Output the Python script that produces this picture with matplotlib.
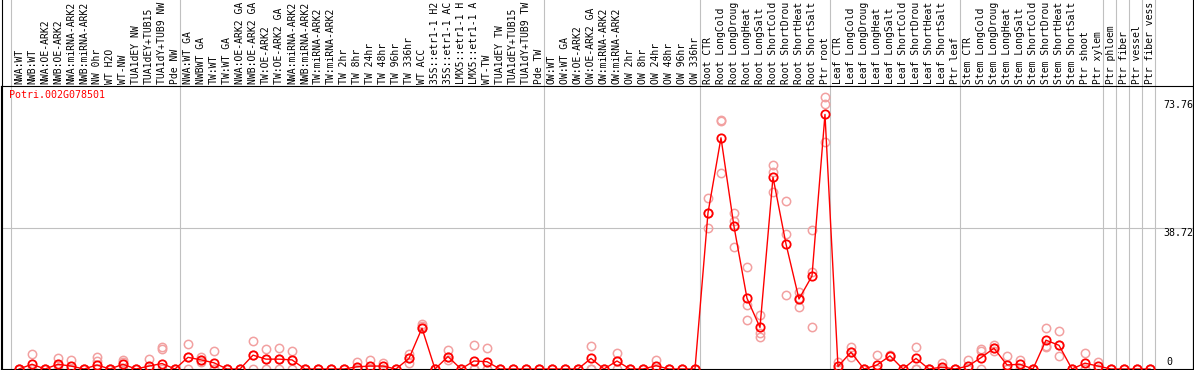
import matplotlib
matplotlib.use("Agg")
import matplotlib.pyplot as plt
import matplotlib.transforms as mtransforms
from matplotlib.lines import Line2D

#Sample names (top header), as far as they show in the header
labels = [
    "NWA:WT", "NWB:WT", "NWA:OE-ARK2", "NWB:OE-ARK2", "NWA:miRNA-ARK2", "NWB:miRNA-ARK2",
    "NW 0hr", "WT H2O", "WT-NW", "TUA1dEY NW", "TUA1dEY+TUB15", "TUA1dY+TUB9 NW", "Pde NW",
    "NWA:WT GA", "NWBWT GA", "TW:WT", "TW:WT GA", "NWA:OE-ARK2 GA", "NWB:OE-ARK2 GA",
    "TW:OE-ARK2", "TW:OE-ARK2 GA", "NWA:miRNA-ARK2", "NWB:miRNA-ARK2", "TW:miRNA-ARK2",
    "TW:miRNA-ARK2", "TW 2hr", "TW 8hr", "TW 24hr", "TW 48hr", "TW 96hr", "TW 336hr",
    "WT ACC", "35S::etr1-1 H2", "35S::etr1-1 AC", "LMX5::etr1-1 H", "LMX5::etr1-1 A",
    "WT-TW", "TUA1dEY TW", "TUA1dEY+TUB15", "TUA1dY+TUB9 TW", "Pde TW",
    "OW:WT", "OW:WT GA", "OW:OE-ARK2", "OW:OE-ARK2 GA", "OW:miRNA-ARK2", "OW:miRNA-ARK2",
    "OW 2hr", "OW 8hr", "OW 24hr", "OW 48hr", "OW 96hr", "OW 336hr",
    "Root CTR", "Root LongCold", "Root LongDroug", "Root LongHeat", "Root LongSalt",
    "Root ShortCold", "Root ShortDrou", "Root ShortHeat", "Root ShortSalt", "Ptr root",
    "Leaf CTR", "Leaf LongCold", "Leaf LongDroug", "Leaf LongHeat", "Leaf LongSalt",
    "Leaf ShortCold", "Leaf ShortDrou", "Leaf ShortHeat", "Leaf ShortSalt", "Ptr leaf",
    "Stem CTR", "Stem LongCold", "Stem LongDroug", "Stem LongHeat", "Stem LongSalt",
    "Stem ShortCold", "Stem ShortDrou", "Stem ShortHeat", "Stem ShortSalt", "Ptr shoot",
    "Ptr xylem", "Ptr phloem", "Ptr fiber", "Ptr vessel", "Ptr fiber vess",
]

#How many samples in each experiment block
group_sizes = [13, 28, 12, 10, 10, 11, 1, 1, 1, 1]

#Mean expression per sample
means = [
    0, 1.3, 0, 1.3, 0.8, 0, 1.1, 0, 1.3, 0, 0.8, 1.5, 0,
    3.2, 2.5, 1.7, 0, 0, 3.8, 2.7, 2.7, 2.5, 0, 0, 0, 0, 0.6, 0.8, 0.8, 0, 2.9,
    11.2, 0, 3.4, 0, 2.2, 2.0, 0, 0, 0, 0,
    0, 0, 0, 2.9, 0, 2.2, 0, 0, 0.9, 0, 0, 0,
    42.8, 63.4, 39.1, 19.4, 11.4, 52.6, 34.3, 19.2, 25.5, 69.8,
    0.7, 4.6, 0, 1.1, 3.6, 0, 2.9, 0, 0.5, 0,
    0.8, 3.1, 5.7, 1.1, 1.3, 0, 7.9, 6.5, 0, 1.6, 0.8,
    0, 0, 0, 0,
]

#Replicate values per sample
reps = [
    (0, 0, 0), (4.1, 0, 0), (0, 0, 0), (2.9, 1.0, 0), (2.5, 0, 0), (0, 0, 0),
    (3.4, 2.2, 0), (0, 0, 0), (2.5, 2.0, 0), (0, 0, 0), (2.7, 0, 0), (6.1, 5.4, 0), (0, 0, 0),
    (6.9, 3.2, 0), (3.4, 1.8, 2.5), (4.9, 0, 0), (0, 0, 0), (0, 0, 0), (7.7, 3.8, 0),
    (5.5, 2.7, 0), (5.8, 2.7, 0), (4.9, 2.5, 0), (0, 0, 0), (0, 0, 0), (0, 0, 0), (0, 0, 0),
    (1.9, 0, 0), (2.5, 0, 0), (1.7, 0, 0), (0, 0, 0), (4.1, 1.6, 2.9),
    (12.4, 11.9, 11.2), (0, 0, 0), (5.1, 2.5, 3.4), (0, 0, 0), (6.6, 0, 0),
    (5.7, 0, 0), (0, 0, 0), (0, 0, 0), (0, 0, 0), (0, 0, 0),
    (0, 0, 0), (0, 0, 0), (0, 0, 0), (6.3, 0, 0), (0, 0, 0), (4.4, 2.2, 0),
    (0, 0, 0), (0, 0, 0), (2.5, 0, 0), (0, 0, 0), (0, 0, 0), (0, 0, 0),
    (46.9, 42.9, 38.6), (68.3, 68.1, 53.8), (42.8, 40.5, 33.4), (28.0, 17.6, 13.5),
    (14.8, 10.0, 8.7), (56.0, 53.9, 48.4), (46.1, 37.1, 20.3), (21.1, 19.6, 16.9),
    (38.2, 26.7, 11.6), (74.6, 72.8, 62.3),
    (2.0, 0, 0), (6.1, 3.4, 4.6), (0, 0, 0), (3.8, 0, 0), (3.8, 3.6, 3.6),
    (0, 0, 0), (6.0, 0, 0), (0, 0, 0), (1.6, 0, 0), (0, 0, 0),
    (2.5, 0, 0), (5.4, 4.8, 0), (6.6, 4.8, 5.7), (3.5, 0, 0), (2.6, 0, 0), (0, 0, 0),
    (11.2, 6.4, 6.0), (10.3, 3.5, 6.5), (0, 0, 0), (4.5, 0, 0), (1.9, 0, 0),
    (0, 0, 0), (0, 0, 0), (0, 0, 0), (0, 0, 0),
]

gene = "Potri.002G078501"
ytick_vals = [73.76, 38.72, 0]

mono = "DejaVu Sans Mono"
W, H = 1194, 370

fig = plt.figure(figsize=(W / 100, H / 100), dpi=100)
ax = fig.add_axes([1 / W, 1 / H, 1192 / W, 283 / H])
ax.set_xlim(-1.385, 90.31)
ax.set_ylim(0, 77.6)
ax.set_xticks([])
ax.set_yticks([])
for s in ["left", "right", "top", "bottom"]:
    ax.spines[s].set_linewidth(0.8)

#block separators, run up through the header
start = 0
bounds = [0]
for g in group_sizes:
    start += g
    bounds.append(start)
for b in bounds:
    ax.axvline(b - 0.62, ymin=0, ymax=370 / 283, color="#c0c0c0", lw=0.8,
               clip_on=False, zorder=1)
ax.axhline(38.72, color="#c0c0c0", lw=0.8, zorder=1)

#outer frame sides in the header
for xf in [1.5 / W, 1192.5 / W]:
    fig.add_artist(Line2D([xf, xf], [0, 1], transform=fig.transFigure, color="black", lw=0.8))

xs = list(range(len(labels)))

#replicates
for i, r in enumerate(reps):
    ax.plot([i] * len(r), r, ls="none", marker="o", ms=6, mfc="none", mec="#f2a0a0",
            mew=1.1, zorder=2)

#mean line
ax.plot(xs, means, color="red", lw=1, marker="o", ms=6, mfc="none", mec="red",
        mew=1.3, zorder=3)

#header labels
trans = mtransforms.blended_transform_factory(ax.transData, ax.transAxes)
for i, lab in enumerate(labels):
    ax.text(i, 1 + 2.5 / 283, lab, rotation=90, ha="center", va="bottom", fontsize=7.0,
            family=mono, transform=trans, clip_on=False)

ax.text(8 / 1192, 0.986, gene, color="red", fontsize=7.2, family=mono,
        ha="left", va="top", transform=ax.transAxes)

#value labels on the right
ytrans = ax.get_yaxis_transform()
for v in ytick_vals:
    txt = "0" if v == 0 else f"{v:.2f}"
    if v == 0:
        ax.text(1165 / 1192, 0.5, txt, fontsize=7.2, family=mono, ha="left", va="bottom",
                transform=ytrans)
    else:
        ax.text(1162 / 1192, v, txt, fontsize=7.2, family=mono, ha="left", va="top",
                transform=ytrans)

fig.savefig("out.png", dpi=100)
